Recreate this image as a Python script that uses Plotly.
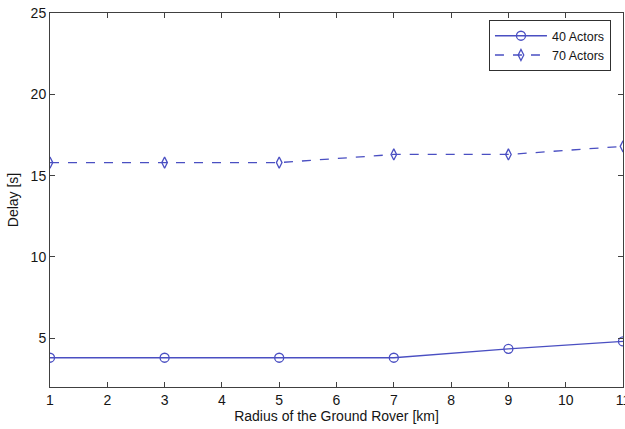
import plotly.graph_objects as go

radius = [1, 3, 5, 7, 9, 11]
delay_40 = [3.8, 3.8, 3.8, 3.8, 4.35, 4.8]
delay_70 = [15.8, 15.8, 15.8, 16.3, 16.3, 16.8]
x_ticks = list(range(1, 12))
y_ticks = [5, 10, 15, 20, 25]

color = "#4a4fc2"
font_family = "Arial, Liberation Sans"
text_color = "#151515"

fig = go.Figure()
fig.add_trace(go.Scatter(
    x=radius, y=delay_40, name="40 Actors", mode="lines+markers",
    line=dict(color=color, width=1.3),
    marker=dict(symbol="circle-open", size=9, color=color, line=dict(width=1.3)),
))
fig.add_trace(go.Scatter(
    x=radius, y=delay_70, name="70 Actors", mode="lines+markers",
    line=dict(color=color, width=1.3, dash="dash"),
    marker=dict(symbol="diamond-tall-open", size=8, color=color, line=dict(width=1.3)),
))

axis_common = dict(
    showgrid=False, zeroline=False, showline=True, linecolor="#404040", linewidth=1,
    mirror="allticks", ticks="inside", ticklen=5, tickcolor="#404040",
    automargin=False, ticklabeloverflow="allow",
    tickfont=dict(family=font_family, size=14, color=text_color),
)

fig.update_layout(
    width=625, height=429,
    margin=dict(l=50, r=2, t=13, b=42, autoexpand=False),
    paper_bgcolor="white", plot_bgcolor="white",
    showlegend=True,
    legend=dict(
        x=0.979, y=0.981, xanchor="right", yanchor="top",
        bgcolor="white", bordercolor="#303030", borderwidth=1,
        font=dict(family=font_family, size=12.5, color=text_color),
        tracegroupgap=0, itemwidth=52,
    ),
    xaxis=dict(range=[1, 11], tickvals=x_ticks,
               title=dict(text="Radius of the Ground Rover [km]", standoff=3,
                          font=dict(family=font_family, size=14, color=text_color)),
               **axis_common),
    yaxis=dict(range=[2, 25], tickvals=y_ticks,
               title=dict(text="Delay [s]", standoff=8,
                          font=dict(family=font_family, size=14, color=text_color)),
               **axis_common),
)

fig.write_html(
    "out.html",
    config={"displayModeBar": False},
    post_script="document.body.style.margin='0';document.body.style.overflow='hidden';",
)
